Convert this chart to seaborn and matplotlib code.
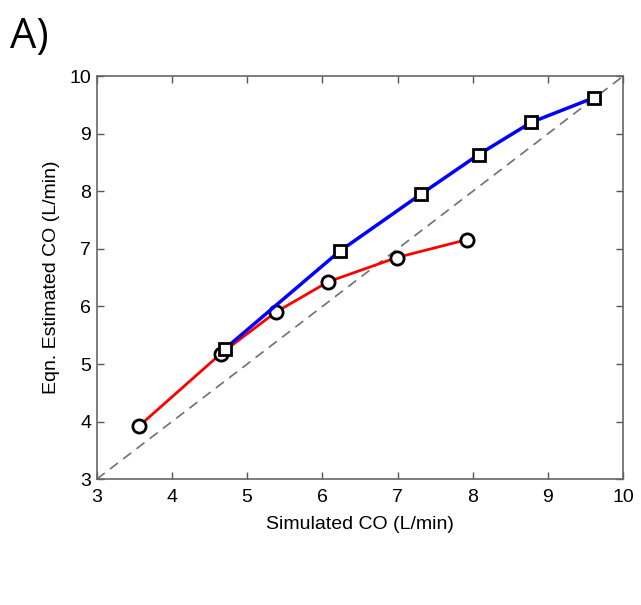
import matplotlib
matplotlib.use("Agg")
import matplotlib.pyplot as plt
import seaborn as sns
import pandas as pd

# Data
sim_blue = [4.70, 6.23, 7.31, 8.08, 8.78, 9.62]
est_blue = [5.26, 6.96, 7.95, 8.64, 9.20, 9.63]
sim_red = [3.56, 4.65, 5.38, 6.08, 6.99, 7.92]
est_red = [3.92, 5.18, 5.90, 6.43, 6.85, 7.16]
ticks = [3, 4, 5, 6, 7, 8, 9, 10]
identity = [3, 10]

sns.set_theme(style="white")
plt.rcParams['font.family'] = ['Liberation Sans', 'DejaVu Sans']
plt.rcParams['text.color'] = 'black'
plt.rcParams['axes.labelcolor'] = 'black'
plt.rcParams['xtick.color'] = 'black'
plt.rcParams['ytick.color'] = 'black'

fig = plt.figure(figsize=(6.41, 6.05), dpi=100)
ax = fig.add_axes([0.151, 0.208, 0.821, 0.666])

sns.lineplot(x=identity, y=identity, ax=ax, color="#707070", linestyle=(0, (6, 4)),
             linewidth=1.2, zorder=1)
sns.lineplot(x=sim_red, y=est_red, ax=ax, color="#ff0000", linewidth=2.0, sort=False,
             marker="o", markersize=9.5, markerfacecolor="white", markeredgecolor="black",
             markeredgewidth=2.0, zorder=2)
sns.lineplot(x=sim_blue, y=est_blue, ax=ax, color="#0000ff", linewidth=2.5, sort=False,
             marker="s", markersize=8.5, markerfacecolor="white", markeredgecolor="black",
             markeredgewidth=2.0, zorder=3)

ax.set_xlim(3, 10)
ax.set_ylim(3, 10)
ax.set_xticks(ticks)
ax.set_yticks(ticks)
ax.set_xticklabels([str(t) for t in ticks])
ax.set_yticklabels([str(t) for t in ticks])
ax.tick_params(direction="in", length=5, width=1, labelsize=14,
               top=True, right=True, bottom=True, left=True,
               color="#555555", labelcolor="black")
ax.tick_params(axis="x", pad=7)
ax.tick_params(axis="y", pad=4)
for s in ax.spines.values():
    s.set_color("#666666")
    s.set_linewidth(1.2)
    s.set_visible(True)
ax.set_xlabel("Simulated CO (L/min)", fontsize=14, labelpad=7, color="black")
ax.set_ylabel("Eqn. Estimated CO (L/min)", fontsize=14, labelpad=7, color="black")

fig.text(10 / 641, 1 - 48 / 605, "A)", fontsize=30, va="baseline", ha="left",
         family=["Open Sans", "DejaVu Sans"], color="black")

fig.savefig("out.png", dpi=100)
